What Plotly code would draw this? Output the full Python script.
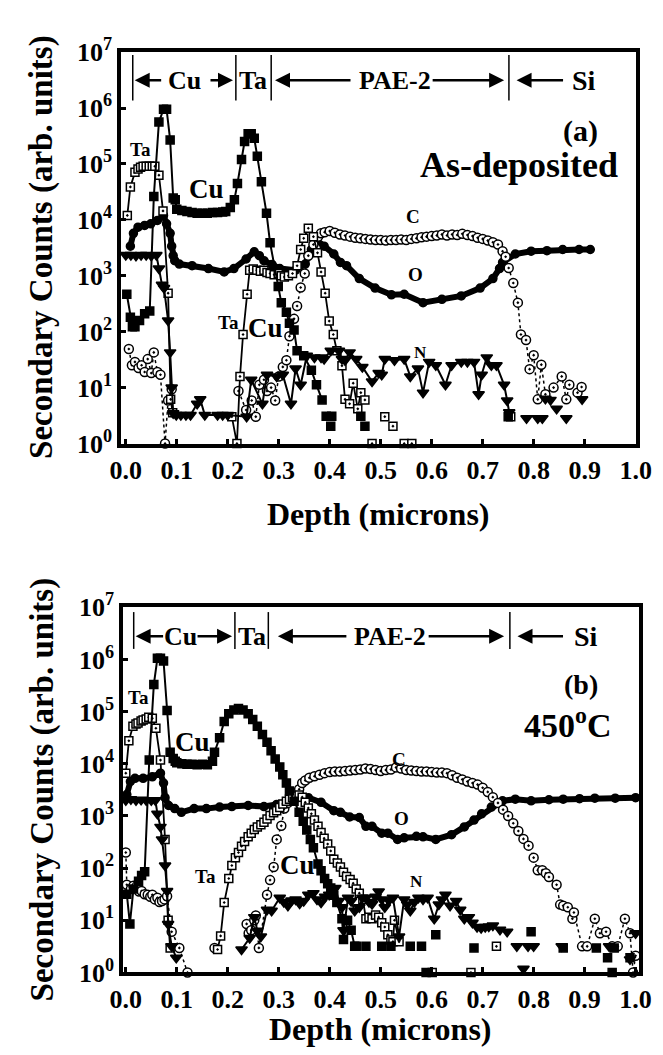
import plotly.graph_objects as go

W, H = 663, 1055
SERIF = "Liberation Serif"

# ---------------- data (depth in microns, values as log10 of counts) ----------------
# Panel (a): as-deposited
a_cu_x = [0.002,0.009,0.013,0.018,0.027,0.037,0.047,0.055,0.065,0.074,0.080,0.087,0.093,0.097,
          0.100,0.110,0.120,0.130,0.140,0.150,0.160,0.170,0.180,0.190,0.196,
          0.205,0.213,0.219,0.227,0.233,0.240,0.246,0.252,0.258,0.266,0.276,0.283,
          0.299,0.305,0.315,0.321,0.330,0.336,0.349,0.364,0.374,0.385]
a_cu_e = [2.67,2.26,2.09,2.09,2.20,2.32,2.37,4.42,5.75,5.98,5.98,5.43,4.39,4.36,
          4.19,4.17,4.15,4.13,4.12,4.12,4.12,4.13,4.13,4.14,4.15,
          4.22,4.36,4.65,5.08,5.40,5.54,5.54,5.46,5.14,4.68,4.12,3.59,
          2.81,2.52,2.35,2.15,2.03,1.66,1.57,1.31,1.05,0.78]
a_cu_pts_x = [0.393,0.404,0.402,0.461,0.469,0.750]
a_cu_pts_e = [0.49,0.49,0.31,0.49,0.31,0.48]

a_ta_x = [0.003,0.009,0.018,0.024,0.029,0.034,0.040,0.046,0.052,0.057,0.065,0.073,0.083,0.088,0.092, None,
          0.208,0.218,0.224,0.230,0.238,0.243,0.250,0.257,0.264,0.271,
          0.277,0.283,0.291,0.299,0.305,0.311,0.319,0.327,0.336,0.343,
          0.349,0.358,0.368,0.376,0.383,0.391,0.399,0.407,0.414,0.424,
          0.430,0.439,0.446,0.455,0.461,0.469]
a_ta_e = [4.08,4.59,4.85,4.91,4.94,4.96,4.96,4.96,4.96,4.96,4.80,4.16,2.69,0.79,0.55, None,
          0.48,0.00,1.20,1.95,2.67,3.10,3.12,3.10,3.08,3.10,
          3.06,3.04,3.02,3.04,3.00,2.98,3.00,3.04,3.18,3.47,
          3.67,3.85,3.70,3.41,3.07,2.69,2.19,1.95,1.66,1.39,
          0.79,0.71,1.08,0.62,0.91,0.78]
a_ta_pts_x = [0.483,0.508,0.524,0.546,0.561,0.755]
a_ta_pts_e = [0.00,0.48,0.31,0.00,0.00,0.48]

a_o_x = [0.009,0.015,0.024,0.037,0.049,0.062,0.074,0.080,0.087,0.090,0.093,0.096,
         0.105,0.130,0.162,0.193,0.212,0.236,0.252,0.262,0.271,0.287,
         0.302,0.333,0.352,0.364,0.374,0.389,0.408,0.421,0.433,0.458,
         0.489,0.521,0.546,0.583,0.620,0.658,0.695,0.720,0.733,0.739,
         0.764,0.795,0.826,0.857,0.889,0.911]
a_o_e = [3.53,3.76,3.87,3.90,3.93,3.99,4.08,3.93,3.76,3.53,3.36,3.27,
         3.21,3.18,3.13,3.07,3.13,3.30,3.43,3.36,3.27,3.20,
         3.13,3.10,3.21,3.47,3.64,3.53,3.39,3.24,3.18,2.95,
         2.78,2.66,2.67,2.52,2.58,2.64,2.78,2.95,3.13,3.24,
         3.39,3.44,3.45,3.47,3.47,3.47]

a_n_x = [0.000,0.010,0.020,0.030,0.040,0.050,0.060,0.065,0.071,0.075,
         0.083,0.087,0.090,0.093,0.099,0.108,0.118,0.127,0.140,0.146,
         0.155,0.180,0.190,0.200,0.237,0.246,0.268,0.277,0.296,0.308,
         0.324,0.333,0.343,0.355,0.370,0.383,0.389,0.402,0.418,0.424,
         0.430,0.439,0.452,0.464,0.483,0.496,0.502,0.508,0.527,0.546,
         0.558,0.573,0.583,0.595,0.608,0.627,0.639,0.658,0.670,0.683,
         0.692,0.698,0.708,0.717,0.727,0.742,0.748,0.752]
a_n_e = [3.37,3.37,3.36,3.37,3.37,3.36,3.37,3.13,2.84,2.78,
         2.20,1.63,1.00,0.54,0.51,0.51,0.51,0.51,0.71,0.79,
         0.51,0.51,0.51,0.51,0.48,1.14,0.71,1.23,1.20,1.23,
         0.71,1.34,1.05,1.57,1.54,1.54,1.51,1.66,1.66,1.51,
         1.49,1.63,1.51,1.37,1.11,1.26,1.23,1.51,1.49,1.51,
         1.20,1.34,0.91,1.46,1.40,1.05,1.40,1.46,1.46,1.46,
         0.88,1.23,1.54,1.40,1.40,1.05,0.77,0.56]
a_n_pts_x = [0.786,0.808,0.817,0.823,0.833,0.845,0.864,0.895]
a_n_pts_e = [0.45,0.45,0.45,0.80,0.78,0.62,0.45,0.79]

a_c_x = [0.006,0.012,0.018,0.025,0.031,0.037,0.043,0.050,0.055,0.062,0.068,0.077,0.083,0.090, None,
         0.221,0.236,0.247,0.255,0.262,0.271,0.277,0.285,0.293,0.300,0.308,0.315,0.321,0.330,0.336,0.343,0.351,0.358,0.368,0.377,0.383,
         0.39,0.40,0.41,0.42,0.43,0.44,0.45,0.46,0.47,0.48,0.49,0.50,0.51,0.52,0.53,0.54,0.55,0.56,0.57,0.58,
         0.59,0.60,0.61,0.62,0.63,0.64,0.65,0.66,0.67,0.68,0.69,0.70,0.71,0.72,0.73,
         0.739,0.745,0.751,0.760,0.769,0.775,0.785,0.792,0.800,0.808,0.815,0.823,0.839,0.855,0.864,0.870,0.886,0.894]
a_c_e = [1.69,1.40,1.46,1.35,1.40,1.28,1.51,1.26,1.63,1.28,1.23,0.00,0.77,0.97, None,
         0.94,0.60,0.77,0.48,1.05,1.14,0.94,1.00,0.77,1.20,1.37,1.49,1.92,2.23,2.46,2.79,3.04,3.36,3.56,3.70,3.76,
         3.78,3.80,3.77,3.74,3.72,3.70,3.68,3.67,3.66,3.65,3.64,3.64,3.63,3.64,3.64,3.65,3.64,3.66,3.67,3.69,
         3.70,3.71,3.72,3.74,3.72,3.74,3.73,3.75,3.73,3.71,3.68,3.66,3.63,3.60,3.56,
         3.44,3.34,3.14,2.87,2.52,1.95,1.85,1.33,1.58,0.79,1.41,0.88,1.00,1.20,0.79,1.05,0.91,1.01]

# Panel (b): 450 C
b_cu_x = [0.002,0.008,0.015,0.025,0.031,0.037,0.046,0.055,0.062,0.068,
          0.074,0.081,0.087,0.093,0.097,0.100,0.110,0.120,0.130,0.140,
          0.150,0.160,0.170,0.174,0.184,0.193,0.202,0.212,0.221,0.230,
          0.240,0.249,0.258,0.268,0.277,0.285,0.293,0.302,0.308,0.315,
          0.321,0.330,0.340,0.348,0.355,0.362,0.368,0.377,0.383,0.390,
          0.396,0.402,0.408,0.414,0.424,0.427,0.435,0.442,0.449]
b_cu_e = [1.50,0.93,1.60,1.75,1.86,1.93,4.07,5.52,6.02,6.02,
          5.97,5.02,4.22,4.10,4.05,4.02,4.00,3.99,3.99,3.98,
          3.99,3.98,4.05,4.22,4.50,4.81,4.96,5.03,5.06,5.03,
          4.96,4.85,4.72,4.56,4.41,4.25,4.09,3.94,3.79,3.63,
          3.48,3.28,3.07,2.90,2.73,2.55,2.39,2.08,1.95,1.80,
          1.70,1.62,1.48,1.34,1.03,0.63,1.00,0.81,0.50]
b_cu_pts_x = [0.452,0.471,0.502,0.520,0.558,0.580,0.589,0.608,0.683,0.795,0.858,0.923,0.945,0.954,0.958,0.989]
b_cu_pts_e = [0.50,0.50,0.50,0.50,0.50,0.50,0.00,0.72,0.47,0.78,0.47,0.47,0.28,0.00,0.47,0.28]

b_ta_x = [0.000,0.006,0.014,0.020,0.024,0.030,0.034,0.040,0.045,0.052,0.059,0.068,0.077,0.083,0.087, None,
          0.180,0.186,0.193,0.202,0.208,0.215,0.221,0.227,0.233,0.240,
          0.246,0.252,0.258,0.265,0.271,0.277,0.283,0.290,0.296,0.302,
          0.308,0.315,0.321,0.327,0.334,0.340,0.346,0.352,0.358,0.364,
          0.370,0.377,0.383,0.389,0.396,0.402,0.408,0.415,0.421,0.427,
          0.433,0.440,0.446,0.452,0.458,0.465,0.471,0.477,0.483,0.490,
          0.496,0.502,0.508,0.514,0.520,0.524,0.527,0.536]
b_ta_e = [3.82,4.44,4.72,4.76,4.78,4.82,4.84,4.86,4.89,4.87,4.68,4.07,2.55,1.00,0.47, None,
          0.44,0.70,1.34,1.80,2.05,2.20,2.30,2.42,2.51,2.60,
          2.67,2.74,2.79,2.83,2.88,2.94,3.01,3.06,3.10,3.16,
          3.23,3.28,3.32,3.35,3.38,3.40,3.36,3.26,3.15,3.04,
          2.92,2.80,2.68,2.57,2.46,2.33,2.17,2.10,2.02,1.92,
          1.84,1.78,1.71,1.60,1.52,1.40,1.03,1.06,1.03,1.10,
          1.06,0.95,0.87,0.72,0.62,0.59,1.00,0.59]
b_ta_pts_x = [0.601,0.677,0.727]
b_ta_pts_e = [0.00,0.00,0.50]

b_o_x = [0.002,0.009,0.018,0.034,0.052,0.068,0.074,0.077,0.084,0.096,
         0.109,0.134,0.158,0.184,0.208,0.240,0.271,0.296,0.321,0.346,
         0.358,0.383,0.408,0.421,0.439,0.458,0.471,0.483,0.502,0.514,
         0.533,0.546,0.570,0.583,0.608,0.639,0.664,0.683,0.698,0.717,
         0.739,0.764,0.795,0.830,0.858,0.890,0.920,0.960,1.000]
b_o_e = [3.41,3.66,3.72,3.72,3.75,3.82,3.63,3.35,3.20,3.14,
         3.07,3.14,3.14,3.17,3.18,3.20,3.18,3.22,3.29,3.35,
         3.35,3.26,3.10,3.07,2.98,2.97,2.80,2.80,2.67,2.67,
         2.55,2.58,2.61,2.60,2.55,2.64,2.79,2.92,3.04,3.17,
         3.29,3.32,3.29,3.31,3.32,3.33,3.34,3.34,3.35]

b_n_x = [0.000,0.010,0.020,0.030,0.040,0.050,0.058,0.062,0.068,0.071,0.077,0.081,0.083,0.090,0.099, None,
         0.227,0.243,0.252,0.258,0.265,0.277,0.286,0.302,0.310,0.318,
         0.325,0.333,0.341,0.349,0.358,0.368,0.375,0.383,0.391,0.399,
         0.405,0.411,0.418,0.424,0.427,0.436,0.442,0.449,0.458,0.464,
         0.471,0.477,0.483,0.490,0.496,0.502,0.508,0.516,0.524,0.536,
         0.546,0.552,0.558,0.566,0.574,0.583,0.592,0.605,0.614,0.620,
         0.627,0.636,0.648,0.656,0.664,0.673,0.680,0.689,0.697,0.705,
         0.712,0.720,0.734,0.748]
b_n_e = [3.30,3.32,3.30,3.31,3.30,3.30,3.30,3.04,2.79,2.55,2.05,1.56,0.93,0.50,0.28, None,
         0.44,0.66,1.06,0.80,0.69,1.20,1.18,1.43,1.35,1.28,
         1.38,1.40,1.32,1.37,1.49,1.52,1.40,1.34,1.45,1.49,
         1.55,1.62,1.37,1.25,0.81,1.43,1.37,1.18,1.25,1.43,
         1.43,1.35,1.31,1.45,1.55,1.40,1.25,1.38,1.43,0.69,
         1.40,1.30,1.18,1.35,1.43,1.40,1.43,1.03,1.30,1.40,
         1.49,1.28,1.37,1.20,1.03,1.06,0.95,0.87,0.85,0.87,
         0.88,0.90,0.82,0.78]
b_n_pts_x = [0.767,0.780,0.789,0.800,0.855,0.948,0.989,1.000]
b_n_pts_e = [0.50,0.07,0.50,0.50,0.50,0.50,0.25,0.75]

b_c_x = [0.000,0.002,0.010,0.015,0.021,0.026,0.031,0.037,0.043,0.048,0.052,0.057,0.062,0.066,0.071,0.076,0.081,0.090,0.105,0.121, None,
         0.174, None,
         0.237,0.241,0.246,0.252,0.255,0.261,0.277,0.283,0.290,0.296,0.305,0.311,0.318,0.327,0.334,0.340,0.346,0.352,
         0.36,0.37,0.38,0.39,0.40,0.41,0.42,0.43,0.44,0.45,
         0.46,0.47,0.48,0.49,0.50,0.51,0.52,0.53,0.54,0.55,
         0.56,0.57,0.58,0.59,0.60,0.61,0.62,0.63,0.64,0.65,
         0.66,0.67,0.68,0.69,0.70,0.71,0.72,0.73,0.74,0.75,
         0.76,0.77,0.78,0.79,
         0.800,0.808,0.817,0.824,0.830,0.845,0.852,0.858,0.867,0.876,0.879,0.895,0.905,0.920,0.930,0.942,0.954,0.965,0.979,0.989,0.995,1.000]
b_c_e = [2.30,1.68,1.60,1.66,1.65,1.55,1.56,1.50,1.49,1.45,1.49,1.40,1.43,1.35,1.37,1.40,1.46,0.78,0.47,0.00, None,
         0.47, None,
         0.93,0.75,0.81,1.00,1.09,0.47,1.49,1.77,2.02,2.55,2.81,3.14,3.25,3.35,3.43,3.51,3.63,3.68,
         3.73,3.76,3.79,3.82,3.84,3.85,3.85,3.86,3.87,3.88,
         3.89,3.91,3.90,3.88,3.86,3.88,3.89,3.93,3.91,3.88,
         3.87,3.86,3.85,3.85,3.84,3.83,3.83,3.82,3.78,3.73,
         3.70,3.66,3.63,3.60,3.54,3.46,3.36,3.25,3.12,3.00,
         2.86,2.71,2.56,2.43,
         2.20,1.96,1.96,1.90,1.83,1.68,1.30,1.28,1.25,1.03,1.15,0.50,0.50,1.03,0.75,0.78,0.50,0.50,1.03,0.75,0.00,0.32]

x_ticks = [0.0, 0.1, 0.2, 0.3, 0.4, 0.5, 0.6, 0.7, 0.8, 0.9, 1.0]
y_decades = [0, 1, 2, 3, 4, 5, 6, 7]

# ---------------- figure ----------------
def counts(exps):
    return [None if e is None else 10 ** e for e in exps]

fig = go.Figure()

def series(x, e, xa, ya, symbol, size, fill="black", mode="lines+markers", lw=1.5, dash="solid", mlw=1.5):
    assert len(x) == len(e), (len(x), len(e))
    fig.add_trace(go.Scatter(
        x=x, y=counts(e), xaxis=xa, yaxis=ya, mode=mode,
        line=dict(color="black", width=lw, dash=dash),
        marker=dict(symbol=symbol, size=size, color=fill, line=dict(color="black", width=mlw)),
        cliponaxis=False, connectgaps=False, hoverinfo="skip", showlegend=False))

for xa, ya, d in [("x", "y", "a"), ("x2", "y2", "b")]:
    g = globals()
    series(g[d + "_o_x"], g[d + "_o_e"], xa, ya, "circle", 8, lw=6)
    series(g[d + "_c_x"], g[d + "_c_e"], xa, ya, "circle-dot", 9, fill="white", lw=1.5, dash="dot")
    series(g[d + "_ta_x"], g[d + "_ta_e"], xa, ya, "square-dot", 8, fill="white", lw=1.8)
    series(g[d + "_ta_pts_x"], g[d + "_ta_pts_e"], xa, ya, "square-dot", 8, fill="white", mode="markers")
    series(g[d + "_n_x"], g[d + "_n_e"], xa, ya, "triangle-down", 10, lw=2)
    series(g[d + "_n_pts_x"], g[d + "_n_pts_e"], xa, ya, "triangle-down", 10, mode="markers")
    series(g[d + "_cu_x"], g[d + "_cu_e"], xa, ya, "square", 8, lw=2)
    series(g[d + "_cu_pts_x"], g[d + "_cu_pts_e"], xa, ya, "square", 8, mode="markers")

tickfont = dict(family=SERIF, size=26, color="black", weight="bold")
common = dict(showline=True, mirror=True, linewidth=4, linecolor="black",
              ticks="inside", ticklen=5, tickwidth=3, tickcolor="black",
              showgrid=False, zeroline=False, tickfont=tickfont)
xcommon = dict(tickvals=x_ticks, ticktext=["%.1f" % v for v in x_ticks], **common)
ycommon = dict(type="log", range=[0, 7], tickvals=[10 ** k for k in y_decades],
               ticktext=["10<sup>%d</sup>" % k for k in y_decades], **common)

fig.update_layout(
    width=W, height=H, margin=dict(l=0, r=0, t=0, b=0),
    paper_bgcolor="white", plot_bgcolor="white", showlegend=False,
    xaxis=dict(domain=[104 / W, 643 / W], range=[-0.0088, 1.0005], anchor="y", **xcommon),
    yaxis=dict(domain=[1 - 431 / H, 1 - 27 / H], anchor="x", **ycommon),
    xaxis2=dict(domain=[106 / W, 646 / W], range=[-0.0051, 1.0062], anchor="y2", **xcommon),
    yaxis2=dict(domain=[1 - 977 / H, 1 - 600 / H], anchor="x2", **ycommon),
)

def X(p): return p / W
def Y(p): return 1 - p / H

def text(t, x, y, size, angle=0):
    fig.add_annotation(text=t, x=X(x), y=Y(y), xref="paper", yref="paper",
                       xanchor="center", yanchor="middle", showarrow=False, textangle=angle,
                       font=dict(family=SERIF, size=size, color="black", weight="bold"))

def arrow(head, tail, y):
    fig.add_annotation(text="", x=X(head), y=Y(y), xref="paper", yref="paper",
                       ax=tail - head, ay=0, showarrow=True, arrowhead=2, arrowsize=1.2,
                       arrowwidth=2.5, arrowcolor="black", standoff=0)

def vline(x, y0, y1):
    fig.add_shape(type="line", xref="paper", yref="paper", x0=X(x), x1=X(x), y0=Y(y0), y1=Y(y1),
                  line=dict(color="black", width=1.5))

# panel (a) header
for xv in [116, 224, 261, 510]:
    vline(xv, 30, 77)
text("Cu", 170, 56, 26); text("Ta", 242, 56, 26); text("PAE-2", 391, 56, 26); text("Si", 589, 56, 28)
arrow(118, 146, 56); arrow(221, 197, 56); arrow(265, 342, 56); arrow(505, 432, 56); arrow(518, 566, 56)
# panel (b) header
for xv in [117, 223, 258, 511]:
    vline(xv, 605, 643)
text("Cu", 166, 630, 26); text("Ta", 241, 630, 26); text("PAE-2", 385, 630, 26); text("Si", 591, 630, 28)
arrow(119, 148, 630); arrow(220, 184, 630); arrow(268, 338, 630); arrow(505, 428, 630); arrow(519, 566, 630)

# species labels (a)
text("Ta", 124, 127, 19); text("Cu", 193, 168, 27); text("Ta", 216, 306, 19); text("Cu", 255, 312, 27)
text("C", 410, 197, 19); text("O", 412, 257, 19); text("N", 417, 337, 17)
text("(a)", 585, 108, 30); text("As-deposited", 521, 143, 36)
# species labels (b)
text("Ta", 122, 693, 19); text("Cu", 179, 739, 27); text("Ta", 192, 878, 19); text("Cu", 289, 866, 27)
text("C", 395, 757, 19); text("O", 398, 818, 19); text("N", 413, 883, 17)
text("(b)", 586, 680, 28); text("450<sup>o</sup>C", 571, 720, 34)

# axis titles
text("Secondary Counts (arb. units)", 21, 228, 33, angle=-90)
text("Secondary Counts (arb. units)", 21, 788, 33, angle=-90)
text("Depth (microns)", 373, 504, 32)
text("Depth (microns)", 376, 1035, 32)

fig.write_html("out.html")
